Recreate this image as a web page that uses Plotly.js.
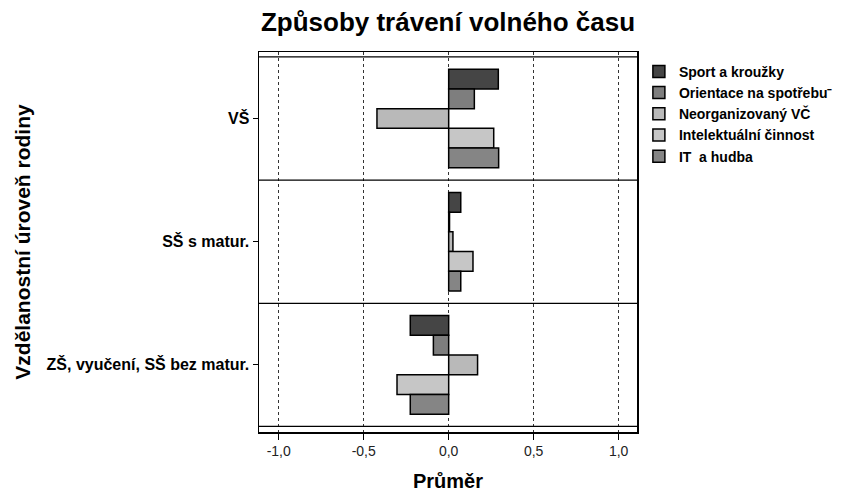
<!DOCTYPE html>
<html><head><meta charset="utf-8">
<script src="https://cdn.plot.ly/plotly-3.0.1.min.js"></script>
<style>body{margin:0;background:#fff}#c{width:858px;height:493px}</style>
</head><body><div id="c"></div>
<script>
const categories = ["VŠ", "SŠ s matur.", "ZŠ, vyučení, SŠ bez matur."];
const seriesNames = ["Sport a kroužky", "Orientace na spotřebu⁻", "Neorganizovaný VČ", "Intelektuální činnost", "IT  a hudba"];
const sport = [0.292, 0.071, -0.226];
const orientace = [0.151, 0.005, -0.090];
const neorg = [-0.422, 0.025, 0.170];
const intelekt = [0.265, 0.143, -0.304];
const ithudba = [0.294, 0.071, -0.226];
const seriesValues = [sport, orientace, neorg, intelekt, ithudba];
const colors = ["#454545", "#7e7e7e", "#b9b9b9", "#c6c6c6", "#858585"];
const xTicks = [-1, -0.5, 0, 0.5, 1];
const xTickLabels = ["-1,0", "-0,5", "0,0", "0,5", "1,0"];

const FONT = "Liberation Sans, Arial, sans-serif";
const traces = seriesNames.map((n, i) => ({
  type: "bar", orientation: "h", name: "<b>" + n + "</b>",
  y: categories, x: seriesValues[i],
  marker: {color: colors[i], line: {color: "#000", width: 1.5}},
  hoverinfo: "x+name"
}));

const shapes = [-0.5, 0.5, 1.5, 2.5].map(v => ({
  type: "line", xref: "paper", yref: "y", x0: 0, x1: 1, y0: v, y1: v,
  line: {color: "#000", width: 1.2}
}));

const layout = {
  width: 858, height: 493,
  margin: {l: 259, r: 221, t: 52, b: 61, autoexpand: false},
  paper_bgcolor: "#fff", plot_bgcolor: "#fff",
  separators: ",.",
  barmode: "group", bargap: 0.2, bargroupgap: 0,
  font: {family: FONT, color: "#000", size: 13},
  title: {text: "<b>Způsoby trávení volného času</b>", font: {size: 26, family: FONT},
          x: 0.5, xref: "paper", xanchor: "center", y: 0.955, yanchor: "middle", yref: "container"},
  xaxis: {range: [-1.116, 1.108], tickmode: "array", tickvals: xTicks, ticktext: xTickLabels,
          showgrid: true, gridcolor: "#333", griddash: "dot", gridwidth: 1.2,
          zeroline: false, showline: true, linecolor: "#000", linewidth: 1.5, mirror: true,
          ticks: "outside", ticklen: 6, tickcolor: "#000", tickwidth: 1.5,
          tickfont: {size: 14, color: "#222"},
          title: {text: "<b>Průměr</b>", font: {size: 20}, standoff: 15}},
  yaxis: {type: "category", categoryorder: "array", categoryarray: categories,
          range: [2.545, -0.54], showgrid: false, zeroline: false,
          showline: true, linecolor: "#000", linewidth: 1.5, mirror: true,
          ticks: "outside", ticklen: 5, tickcolor: "#000", tickwidth: 1.2,
          tickfont: {size: 16}, ticklabelstandoff: 0,
          tickprefix: "<b>", ticksuffix: "</b>",
          title: {text: "<b>Vzdělanostní úroveň rodiny</b>", font: {size: 21}, standoff: 10}},
  showlegend: true,
  legend: {x: 1.005, y: 0.99, xanchor: "left", yanchor: "top", traceorder: "normal",
           font: {size: 14}, itemwidth: 30, tracegroupgap: 0, bgcolor: "rgba(0,0,0,0)"},
  shapes: shapes
};
Plotly.newPlot("c", traces, layout, {displayModeBar: false, staticPlot: true});
</script></body></html>
